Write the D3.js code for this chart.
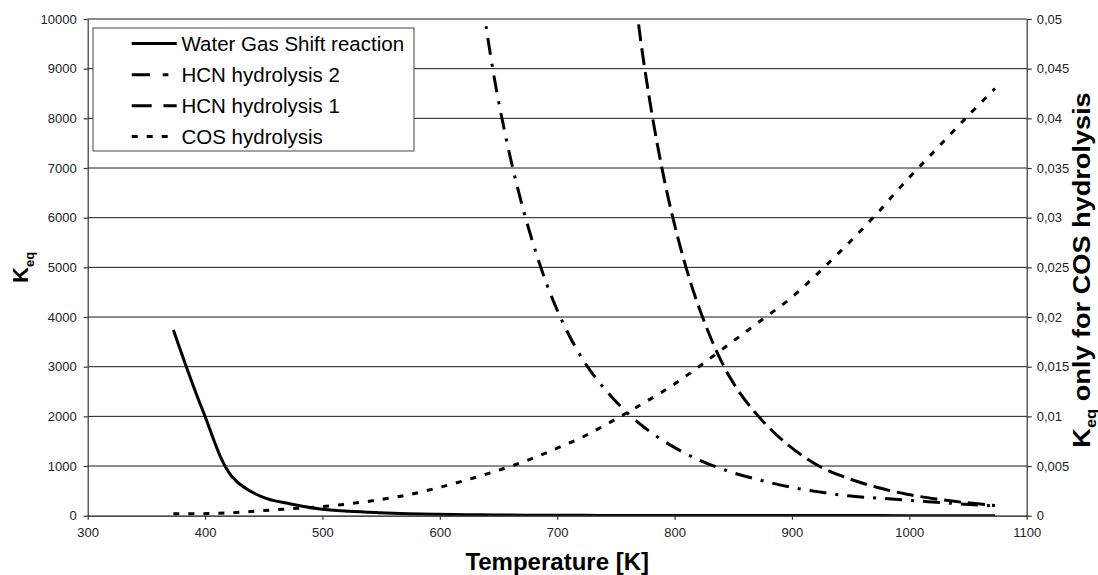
<!DOCTYPE html>
<html>
<head>
<meta charset="utf-8">
<script src="https://cdn.jsdelivr.net/npm/d3@7"></script>
<style>
  html, body { margin: 0; padding: 0; background: #fff; }
  svg { display: block; font-family: "Liberation Sans", Arial, sans-serif; }
</style>
</head>
<body>
<svg id="chart" width="1098" height="575"></svg>
<script>
// Temperatures [K] shared by the water gas shift and COS series
const temps = [373, 398, 423, 448, 473, 498, 523, 548, 573, 598, 623, 648, 673, 698, 723,
               748, 773, 798, 823, 848, 873, 898, 923, 948, 973, 998, 1023, 1048, 1073];

// Water gas shift equilibrium constant (left axis)
const wgsK = [3740, 2120, 785, 383, 236, 135, 88, 60, 40, 28, 20, 15, 11, 9, 7,
              6, 5, 4, 3.5, 3, 2.6, 2.3, 2, 1.8, 1.6, 1.5, 1.3, 1.2, 1.1];

// COS hydrolysis equilibrium constant (right axis)
const cosK = [0.0002, 0.0002, 0.0003, 0.0005, 0.0007, 0.0009, 0.0012, 0.0016, 0.0021, 0.0028,
              0.0036, 0.0045, 0.0055, 0.0067, 0.0080, 0.0096, 0.0113, 0.0131, 0.0152, 0.0174,
              0.0196, 0.0218, 0.0245, 0.0274, 0.0305, 0.0338, 0.0369, 0.0400, 0.0430];

// HCN hydrolysis 2 (left axis)
const hcn2Temps = [623, 648, 673, 698, 723, 748, 773, 798, 823, 848, 873, 898, 923, 948, 973, 998, 1023, 1048, 1073];
const hcn2K = [12650, 8600, 6000, 4250, 3100, 2350, 1800, 1400, 1100, 880, 715, 580, 480, 400, 355, 312, 270, 230, 195];

// HCN hydrolysis 1 (left axis)
const hcn1Temps = [748, 773, 798, 823, 848, 873, 898, 923, 948, 973, 998, 1023, 1048, 1073];
const hcn1K = [14700, 9250, 6050, 4050, 2750, 1960, 1400, 1000, 750, 568, 432, 336, 263, 207];

// Axis ticks
const xTicks = [300, 400, 500, 600, 700, 800, 900, 1000, 1100];
const yLeftTicks = [0, 1000, 2000, 3000, 4000, 5000, 6000, 7000, 8000, 9000, 10000];
const yRightTicks = [0, 0.005, 0.01, 0.015, 0.02, 0.025, 0.03, 0.035, 0.04, 0.045, 0.05];

const legendLabels = ["Water Gas Shift reaction", "HCN hydrolysis 2", "HCN hydrolysis 1", "COS hydrolysis"];

// ---- layout ----
const plot = { left: 87.7, right: 1026.7, top: 19, bottom: 515.7 };
const svg = d3.select("#chart");

const x = d3.scaleLinear().domain([300, 1100]).range([plot.left, plot.right]);
const yL = d3.scaleLinear().domain([0, 10000]).range([plot.bottom, plot.top]);
const yR = d3.scaleLinear().domain([0, 0.05]).range([plot.bottom, plot.top]);

const commaLocale = d3.formatLocale({ decimal: ",", thousands: ".", grouping: [3], currency: ["", ""] });
const fmtRight = commaLocale.format("~g");

svg.append("defs").append("clipPath").attr("id", "plotClip")
  .append("rect")
  .attr("x", plot.left).attr("y", plot.top - 1)
  .attr("width", plot.right - plot.left).attr("height", plot.bottom - plot.top + 1);

// horizontal gridlines
svg.append("g").selectAll("line")
  .data(yLeftTicks.filter(d => d > 0))
  .join("line")
  .attr("x1", plot.left).attr("x2", plot.right)
  .attr("y1", d => yL(d)).attr("y2", d => yL(d))
  .attr("stroke", "#1a1a1a").attr("stroke-width", 1);

// axes
function styleAxis(g) {
  g.select(".domain").attr("stroke", "#333").attr("stroke-width", 1.2);
  g.selectAll(".tick line").attr("stroke", "#333").attr("stroke-width", 1.2);
  g.selectAll(".tick text").attr("fill", "#222").attr("font-size", 13)
    .attr("font-family", "'Liberation Sans', Arial, sans-serif");
}

svg.append("g")
  .attr("transform", `translate(${plot.left},0)`)
  .call(d3.axisLeft(yL).tickValues(yLeftTicks).tickFormat(d3.format("d"))
        .tickSizeInner(4).tickSizeOuter(0).tickPadding(7))
  .call(styleAxis);

svg.append("g")
  .attr("transform", `translate(${plot.right},0)`)
  .call(d3.axisRight(yR).tickValues(yRightTicks).tickFormat(fmtRight)
        .tickSizeInner(5).tickSizeOuter(0).tickPadding(5))
  .call(styleAxis);

svg.append("g")
  .attr("transform", `translate(0,${plot.bottom})`)
  .call(d3.axisBottom(x).tickValues(xTicks).tickFormat(d3.format("d"))
        .tickSizeInner(4).tickSizeOuter(0).tickPadding(8))
  .call(styleAxis)
  .call(g => g.select(".domain").attr("stroke", "#111"));

// series
const series = [
  { name: legendLabels[0], t: temps,     v: wgsK,  y: yL, dash: null,       legendDash: null },
  { name: legendLabels[1], t: hcn2Temps, v: hcn2K, y: yL, dash: "17,9,3,9", legendDash: "18.3,12.7,5.7,60" },
  { name: legendLabels[2], t: hcn1Temps, v: hcn1K, y: yL, dash: "17,7",     legendDash: "20,11.7" },
  { name: legendLabels[3], t: temps,     v: cosK,  y: yR, dash: "6,9",      legendDash: "6,9" }
];

const lines = svg.append("g").attr("clip-path", "url(#plotClip)");
series.forEach(s => {
  const pts = s.t.map((t, i) => [t, s.v[i]]);
  const gen = d3.line()
    .x(d => x(d[0]))
    .y(d => s.y(d[1]))
    .curve(d3.curveCatmullRom.alpha(0.5));
  lines.append("path")
    .datum(pts)
    .attr("d", gen)
    .attr("fill", "none")
    .attr("stroke", "#000")
    .attr("stroke-width", 3)
    .attr("stroke-dasharray", s.dash);
});

// legend
const legend = svg.append("g");
legend.append("rect")
  .attr("x", 93).attr("y", 28).attr("width", 321).attr("height", 123)
  .attr("fill", "#fff").attr("stroke", "#444").attr("stroke-width", 1);

const rowY = [43.5, 74.8, 105.8, 136.5];
series.forEach((s, i) => {
  legend.append("line")
    .attr("x1", 131.7).attr("x2", 176.7)
    .attr("y1", rowY[i]).attr("y2", rowY[i])
    .attr("stroke", "#000").attr("stroke-width", 3)
    .attr("stroke-dasharray", s.legendDash);
  legend.append("text")
    .attr("x", 181.5).attr("y", rowY[i]).attr("dy", "0.356em")
    .attr("font-size", 20.5).attr("fill", "#000")
    .text(s.name);
});

// axis titles
svg.append("text")
  .attr("x", (plot.left + plot.right) / 2).attr("y", 570)
  .attr("text-anchor", "middle").attr("font-size", 24).attr("font-weight", "bold")
  .text("Temperature [K]");

const yTitle = svg.append("text")
  .attr("transform", `translate(28.3,${(plot.top + plot.bottom) / 2}) rotate(-90)`)
  .attr("text-anchor", "middle").attr("font-size", 22).attr("font-weight", "bold");
yTitle.append("tspan").text("K");
yTitle.append("tspan").attr("font-size", 13).attr("dy", 6).text("eq");

const rTitle = svg.append("text")
  .attr("transform", `translate(1090,270) rotate(-90) scale(1.18,1)`)
  .attr("text-anchor", "middle").attr("font-size", 23).attr("font-weight", "bold");
rTitle.append("tspan").text("K");
rTitle.append("tspan").attr("font-size", 14).attr("dy", 6).text("eq");
rTitle.append("tspan").attr("dy", -6).text(" only for COS hydrolysis");
</script>
</body>
</html>
